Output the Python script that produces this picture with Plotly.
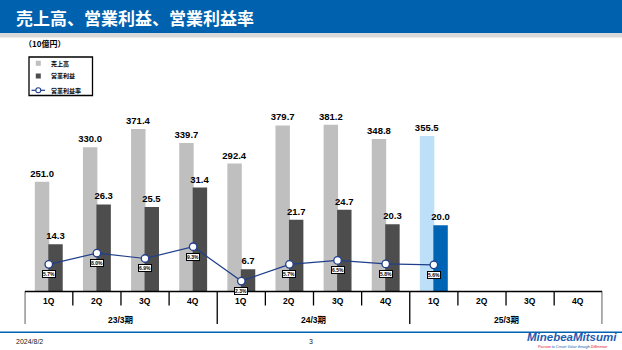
import plotly.graph_objects as go

# ---------------- data ----------------
title_text = "売上高、営業利益、営業利益率"
unit_text = "（10億円）"
fiscal_years = ["23/3期", "24/3期", "25/3期"]
quarters = ["1Q", "2Q", "3Q", "4Q"]
sales = [251.0, 330.0, 371.4, 339.7, 292.4, 379.7, 381.2, 348.8, 355.5]
op_income = [14.3, 26.3, 25.5, 31.4, 6.7, 21.7, 24.7, 20.3, 20.0]
op_margin = [5.7, 8.0, 6.9, 9.3, 2.3, 5.7, 6.5, 5.8, 5.6]
legend_names = ["売上高", "営業利益", "営業利益率"]
footer_date = "2024/8/2"
page_no = "3"

# ---------------- styling ----------------
W, H = 622, 350
BLUE = "#0062AF"
NAVY = "#1F3E8C"
SALES_GRAY = "#BFBFBF"
OP_DARK = "#4D4D4D"
SALES_CUR = "#BDDFF8"
OP_CUR = "#0064B4"
LAT = "Liberation Sans, Arial, sans-serif"
CJK = "Noto Sans CJK JP, sans-serif"


def px(x):
    return x / W


def py(y):
    return 1 - y / H


n_q = len(quarters)
n_cells = n_q * len(fiscal_years)
cur_year_start = n_q * (len(fiscal_years) - 1)
xs = list(range(len(sales)))

sales_colors = [SALES_CUR if i >= cur_year_start else SALES_GRAY for i in xs]
op_colors = [OP_CUR if i >= cur_year_start else OP_DARK for i in xs]

AXIS_Y = 291.5
TOP_Y = 80.0
sales_ppu = 0.4375
op_ppu = 3.31
pct_ppu = 4.9
pct_zero = 0.163
plot_h = AXIS_Y - TOP_Y

fig = go.Figure()

fig.add_trace(go.Bar(
    x=xs, y=sales, width=0.3, offset=-0.29,
    marker=dict(color=sales_colors, line=dict(width=0)),
    texttemplate="<b>%{y:.1f}</b>", textposition="outside",
    constraintext="none", cliponaxis=False,
    textfont=dict(family=LAT, size=9.5, color="#000000"),
    yaxis="y", showlegend=False, name=legend_names[0],
))
fig.add_trace(go.Bar(
    x=xs, y=op_income, width=0.3, offset=-0.01,
    marker=dict(color=op_colors, line=dict(width=0)),
    texttemplate="<b>%{y:.1f}</b>", textposition="outside",
    constraintext="none", cliponaxis=False,
    textfont=dict(family=LAT, size=9.5, color="#000000"),
    yaxis="y2", showlegend=False, name=legend_names[1],
))
fig.add_trace(go.Scatter(
    x=xs, y=op_margin, mode="lines+markers",
    line=dict(color=NAVY, width=1.2),
    marker=dict(symbol="circle", size=7.5, color="white",
                line=dict(color=NAVY, width=1.3)),
    yaxis="y3", showlegend=False, cliponaxis=False, name=legend_names[2],
))

annotations = []
shapes = []

# percentage boxes
for i, v in zip(xs, op_margin):
    annotations.append(dict(
        x=i, y=v, xref="x", yref="y3", yshift=-10,
        text=f"<b>{v:.1f}%</b>", showarrow=False,
        font=dict(family=LAT, size=5, color="#000000"),
        bgcolor="white", bordercolor="#000000", borderwidth=1, borderpad=0,
        xanchor="center", yanchor="middle",
    ))

# category axis: line, ticks, labels
shapes.append(dict(type="line", xref="x", yref="paper", x0=-0.5, x1=n_cells - 0.5,
                   y0=py(AXIS_Y), y1=py(AXIS_Y), line=dict(color="#000000", width=1.5)))
for b in range(n_cells + 1):
    long_tick = (b % n_q == 0)
    shapes.append(dict(type="line", xref="x", yref="paper", x0=b - 0.5, x1=b - 0.5,
                       y0=py(AXIS_Y), y1=py(324.0 if long_tick else 305.5),
                       line=dict(color="#000000", width=1.3)))
for c in range(n_cells):
    annotations.append(dict(x=c, y=py(301), xref="x", yref="paper",
                            text=f"<b>{quarters[c % n_q]}</b>", showarrow=False,
                            font=dict(family=LAT, size=8.5, color="#000000"),
                            xanchor="center", yanchor="middle"))
for g, fy in enumerate(fiscal_years):
    annotations.append(dict(x=g * n_q + (n_q - 1) / 2, y=py(319.5), xref="x", yref="paper",
                            text=f"<b>{fy}</b>", showarrow=False,
                            font=dict(family=LAT + ", " + CJK, size=8.5, color="#000000"),
                            xanchor="center", yanchor="middle"))

# header
shapes.append(dict(type="rect", xref="paper", yref="paper", x0=0, x1=1, y0=py(33), y1=1,
                   fillcolor=BLUE, line=dict(width=0), layer="below"))
shapes.append(dict(type="rect", xref="paper", yref="paper", x0=0, x1=1, y0=py(37.5), y1=py(33),
                   fillcolor="#D9D9D9", line=dict(width=0), layer="below"))
annotations.append(dict(x=px(14), y=py(18), xref="paper", yref="paper",
                        text=f"<b>{title_text}</b>", showarrow=False,
                        font=dict(family=CJK, size=17, color="white"),
                        xanchor="left", yanchor="middle"))
annotations.append(dict(x=px(22), y=py(44), xref="paper", yref="paper",
                        text=f"<b>{unit_text}</b>", showarrow=False,
                        font=dict(family=CJK, size=8, color="#000000"),
                        xanchor="left", yanchor="middle"))

# custom legend
shapes.append(dict(type="rect", xref="paper", yref="paper", x0=px(29), x1=px(92.5),
                   y0=py(95.5), y1=py(57), line=dict(color="#000000", width=1.3),
                   fillcolor="white"))
shapes.append(dict(type="rect", xref="paper", yref="paper", x0=px(35.8), x1=px(40.8),
                   y0=py(65.8), y1=py(60.8), fillcolor=SALES_GRAY, line=dict(width=0)))
shapes.append(dict(type="rect", xref="paper", yref="paper", x0=px(35.8), x1=px(40.8),
                   y0=py(78.5), y1=py(73.5), fillcolor=OP_DARK, line=dict(width=0)))
shapes.append(dict(type="line", xref="paper", yref="paper", x0=px(31.5), x1=px(45),
                   y0=py(90.3), y1=py(90.3), line=dict(color=NAVY, width=1.2)))
shapes.append(dict(type="circle", xref="paper", yref="paper", x0=px(35.8), x1=px(40.8),
                   y0=py(92.8), y1=py(87.8), fillcolor="white",
                   line=dict(color=NAVY, width=1.1)))
for name, yy in zip(legend_names, [63.3, 76, 90.3]):
    annotations.append(dict(x=px(48.5), y=py(yy), xref="paper", yref="paper",
                            text=f"<b>{name}</b>", showarrow=False,
                            font=dict(family=CJK, size=6, color="#000000"),
                            xanchor="left", yanchor="middle"))

# footer
shapes.append(dict(type="line", xref="paper", yref="paper", x0=0, x1=1,
                   y0=py(332.3), y1=py(332.3), line=dict(color=BLUE, width=1.5)))
annotations.append(dict(x=px(13.5), y=py(341.8), xref="paper", yref="paper",
                        text=footer_date, showarrow=False,
                        font=dict(family=LAT, size=7, color="#222222"),
                        xanchor="left", yanchor="middle"))
annotations.append(dict(x=px(311), y=py(341.8), xref="paper", yref="paper",
                        text=page_no, showarrow=False,
                        font=dict(family=LAT, size=7, color="#222222"),
                        xanchor="center", yanchor="middle"))
annotations.append(dict(x=px(572), y=py(336.8), xref="paper", yref="paper",
                        text="<b><i>MinebeaMitsumi</i></b>", showarrow=False,
                        font=dict(family=LAT, size=11.5, color="#1E5BB0"),
                        xanchor="center", yanchor="middle"))
annotations.append(dict(x=px(572), y=py(347), xref="paper", yref="paper",
                        text="<i><span style='color:#E60012'>Passion</span> to Create Value through "
                             "<span style='color:#E60012'>Difference</span></i>",
                        showarrow=False,
                        font=dict(family=LAT, size=3.6, color="#1E5BB0"),
                        xanchor="center", yanchor="middle"))

ydom = [py(AXIS_Y), py(TOP_Y)]
fig.update_layout(
    width=W, height=H, autosize=False,
    margin=dict(l=0, r=0, t=0, b=0, pad=0),
    paper_bgcolor="white", plot_bgcolor="white",
    barmode="overlay",
    xaxis=dict(domain=[px(24.7), px(602.3)], range=[-0.5, n_cells - 0.5],
               visible=False, fixedrange=True),
    yaxis=dict(domain=ydom, range=[0, plot_h / sales_ppu], visible=False),
    yaxis2=dict(domain=ydom, range=[0, plot_h / op_ppu], overlaying="y", visible=False),
    yaxis3=dict(domain=ydom, range=[pct_zero, pct_zero + plot_h / pct_ppu],
                overlaying="y", visible=False),
    shapes=shapes,
    annotations=annotations,
    showlegend=False,
)

fig.write_html("out.html")
